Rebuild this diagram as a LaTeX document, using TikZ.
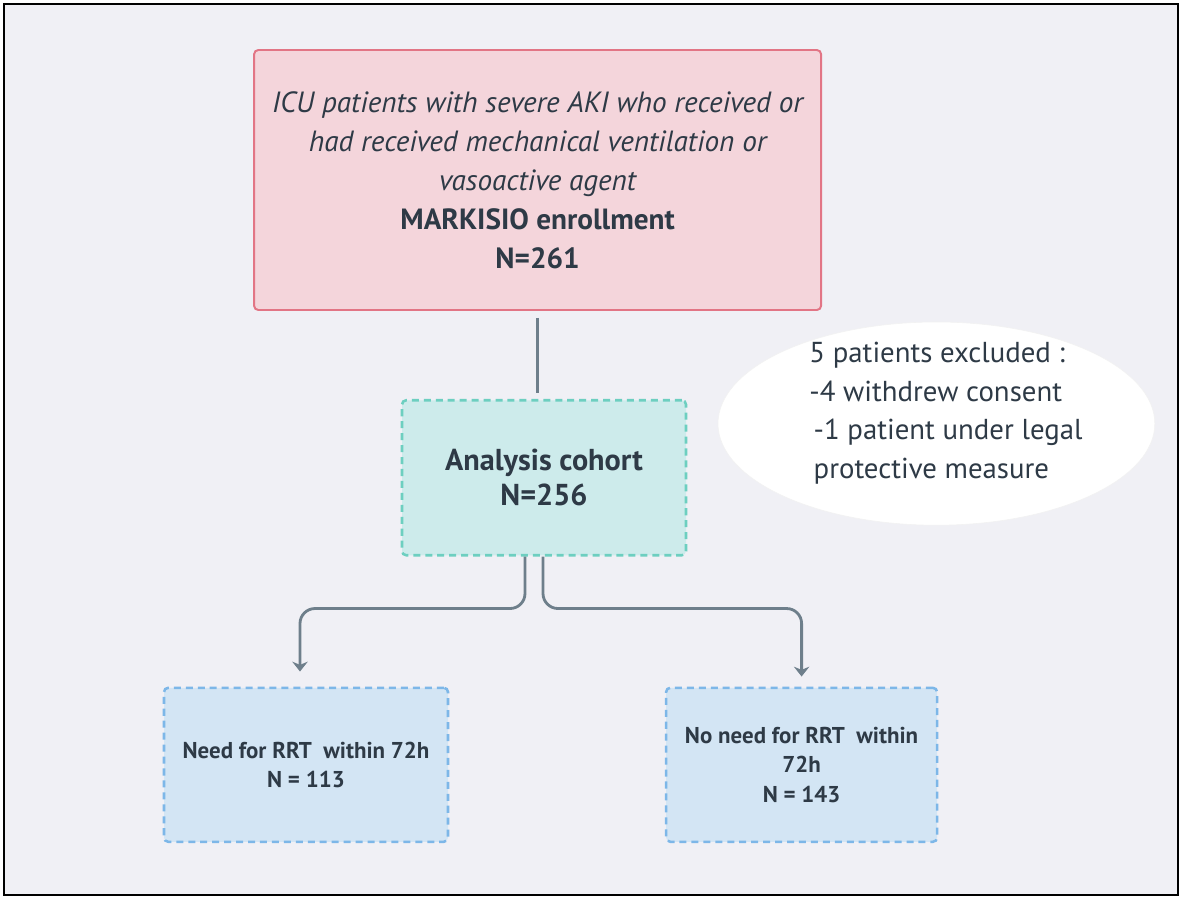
\documentclass[tikz,border=0pt]{standalone}
\usepackage{fontspec}
\setmainfont{PT Sans}
\usetikzlibrary{shapes.geometric,arrows.meta,positioning}
\definecolor{bgcol}{HTML}{F0F0F5}
\definecolor{inkcol}{HTML}{2E3A46}
\definecolor{linkcol}{HTML}{6E7F8B}
\definecolor{pinkfill}{HTML}{F4D5DB}
\definecolor{pinkline}{HTML}{E27585}
\definecolor{tealfill}{HTML}{CDEBEB}
\definecolor{tealline}{HTML}{6DCFC0}
\definecolor{bluefill}{HTML}{D3E5F4}
\definecolor{blueline}{HTML}{7DB7E8}

\begin{document}
\begin{tikzpicture}[
    box/.style={rectangle, rounded corners=3pt, text centered, align=center, text=inkcol},
    enrollbox/.style={box, fill=pinkfill, draw=pinkline, line width=1.4pt, minimum width=14.175cm, minimum height=6.5cm, font=\fontsize{20.8}{27.7}\selectfont},
    dashbox/.style={box, line width=1.8pt, dash pattern=on 5pt off 3.5pt},
    cohortbox/.style={dashbox, fill=tealfill, draw=tealline, minimum width=7.1cm, minimum height=3.875cm, font=\bfseries\fontsize{21.5}{25}\selectfont},
    outbox/.style={dashbox, fill=bluefill, draw=blueline, minimum height=3.85cm, font=\bfseries\fontsize{16.3}{21}\selectfont},
    notetext/.style={align=left, text=inkcol, font=\fontsize{20.5}{27.4}\selectfont},
    link/.style={draw=linkcol, line width=2pt},
    branch/.style={link, rounded corners=0.375cm, -{Stealth[width=11pt, length=7pt]}}
]

% Frame
\useasboundingbox (0,0) rectangle (29.525,-22.45);
\draw[line width=2pt, fill=bgcol] (0.1,-0.1) rectangle (29.45,-22.375);

% Boxes
\node (enroll) [enrollbox] at (13.44,-4.5) {\itshape ICU patients with severe AKI who received or\\\itshape had received mechanical ventilation or\\\itshape vasoactive agent\\\bfseries MARKISIO enrollment\\\bfseries N=261};
\node (cohort) [cohortbox, below=2.2cm of enroll, xshift=0.16cm] {Analysis cohort\\N=256};
\node (need) [outbox, minimum width=7.1cm, below=3.25cm of cohort, xshift=-5.95cm] {Need for RRT~ within 72h\\N = 113};
\node (noneed) [outbox, minimum width=6.775cm, below=3.25cm of cohort, xshift=6.44cm] {No need for RRT~ within\\72h\\N = 143};

% Exclusions
\filldraw[fill=white, draw=gray!10] (23.41,-10.59) ellipse [x radius=5.46cm, y radius=2.54cm];
\node (note) [notetext] at (23.65,-10.33) {5 patients excluded :\\-4 withdrew consent\\\hspace{3pt}-1 patient under legal\\\hspace{3pt}protective measure};

% Links
\draw[link, shorten <=0.175cm, shorten >=0.15cm] (enroll.south) -- (enroll.south |- cohort.north);
\draw[branch, shorten >=0.375cm] ([xshift=-0.475cm]cohort.south) -- ++(0,-1.3) -| ([xshift=-0.15cm]need.north);
\draw[branch, shorten >=0.25cm] ([xshift=-0.025cm]cohort.south) -- ++(0,-1.3) -| (noneed.north);

\end{tikzpicture}
\end{document}
